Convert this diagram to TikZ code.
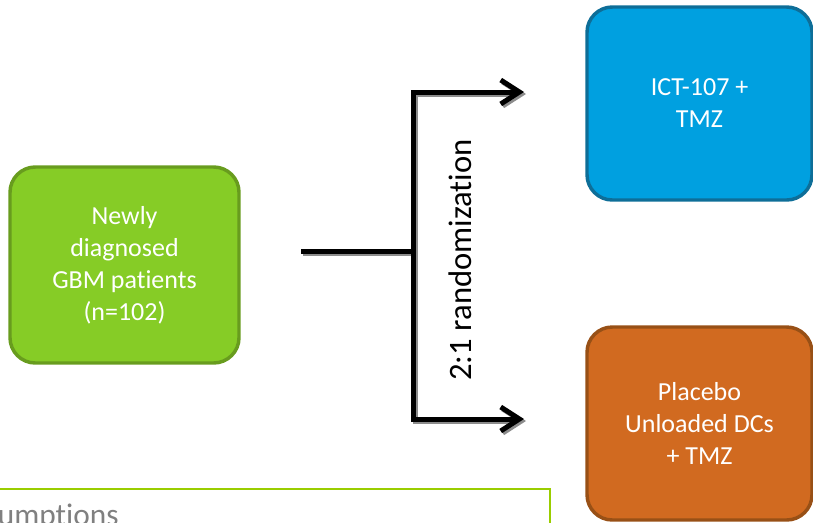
\documentclass[tikz,border=0pt]{standalone}
\usepackage{fontspec}
\setmainfont{Carlito}[Ligatures=CommonOff]
\usetikzlibrary{arrows.meta}
\definecolor{gbmfill}{RGB}{134,204,38}
\definecolor{gbmline}{RGB}{104,156,30}
\definecolor{ictfill}{RGB}{0,160,224}
\definecolor{ictline}{RGB}{14,110,152}
\definecolor{plcfill}{RGB}{209,106,32}
\definecolor{plcline}{RGB}{152,80,22}
\definecolor{assline}{RGB}{154,205,0}
\definecolor{shadowgray}{RGB}{140,140,140}

\begin{document}
\begin{tikzpicture}[x=0.75pt,y=-0.75pt]
\tikzstyle{every node}=[inner sep=0pt,align=center,font=\fontsize{19.5}{24}\selectfont]
\tikzstyle{arm}=[rounded corners=19pt,line width=2.6pt,text=white,minimum width=168.75pt,minimum height=144.75pt]
\tikzstyle{link}=[line width=3.75pt,{Straight Barb[length=14pt,width=18pt]}-{Straight Barb[length=14pt,width=18pt]}]
\useasboundingbox (0,0) rectangle (813,522);
\clip (0,0) rectangle (813,522);

% patients and the two arms
\node[arm,fill=gbmfill,draw=gbmline,minimum width=171.75pt,minimum height=147pt] (gbm) at (124.5,265) {Newly\\diagnosed\\GBM patients\\(n=102)};
\node[arm,fill=ictfill,draw=ictline] (ict) at (699.5,103.5) {ICT-107 +\\TMZ};
\node[arm,fill=plcfill,draw=plcline] (placebo) at (699.5,423.5) {Placebo\\Unloaded DCs\\+ TMZ};

\coordinate (start) at (301,251);
\coordinate (split) at (413,251);
\coordinate (toict) at (524,92);
\coordinate (toplacebo) at (524,419);

% shadow first, then the black lines
\begin{scope}[transform canvas={shift={(2,2)}},shadowgray]
\draw[line width=3.75pt] (start) -- (split);
\draw[link] (toict) -| (split) |- (toplacebo);
\end{scope}
\draw[line width=3.75pt] (start) -- (split);
\draw[link] (toict) -| (split) |- (toplacebo);

\node[rotate=90,font=\fontsize{24.5}{29}\selectfont] (rand) at (460,260) {2:1 randomization};

%\node (ass) at (...) {Assumptions};
\draw[assline,line width=1.5pt] (-60,489) -- (550,489) -- (550,560);
\node[anchor=base west,text=gray,font=\fontsize{23.5}{28}\selectfont] (ass) at (-45,525) {Assumptions};
\end{tikzpicture}
\end{document}
